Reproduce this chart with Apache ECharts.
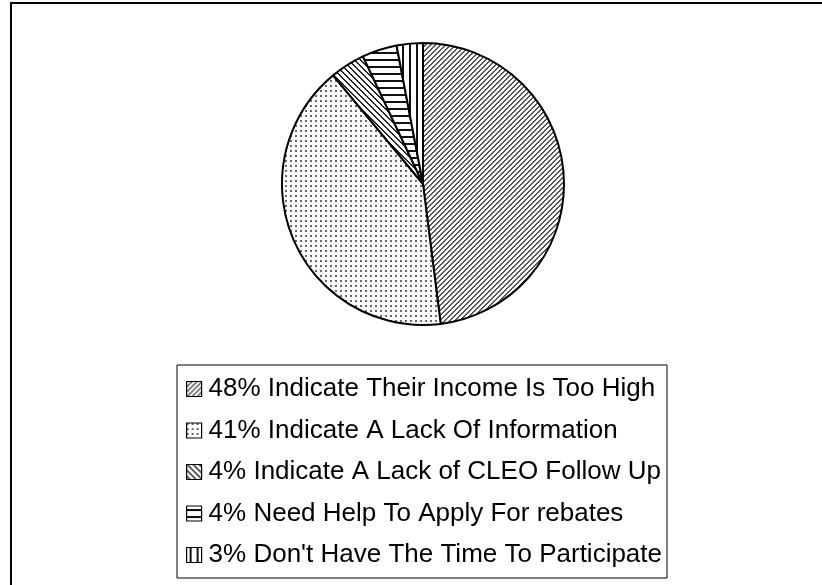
<!DOCTYPE html>
<html>
<head>
<meta charset="utf-8">
<script src="https://cdn.jsdelivr.net/npm/echarts@6/dist/echarts.min.js"></script>
<style>
  html, body { margin: 0; padding: 0; background: #fff; }
  #chart { width: 822px; height: 585px; }
</style>
</head>
<body>
<div id="chart"></div>
<script>
// Reasons given for not taking part in the rebate programme
const categories = [
  '48% Indicate Their Income Is Too High',
  '41% Indicate A Lack Of Information',
  '4% Indicate A Lack of CLEO Follow Up',
  '4% Need Help To Apply For rebates',
  "3% Don't Have The Time To Participate"
];
const values = [48, 41, 4, 4, 3];

// Monochrome fill patterns, one per slice
function tile(w, h, paint) {
  const c = document.createElement('canvas');
  c.width = w; c.height = h;
  const g = c.getContext('2d');
  g.fillStyle = '#fff';
  g.fillRect(0, 0, w, h);
  paint(g, w, h);
  return { image: c, repeat: 'repeat' };
}
const patterns = [
  // forward diagonal hatch
  tile(5, 5, (g, w) => {
    g.fillStyle = '#555';
    for (let i = 0; i < w; i++) {
      g.fillRect(i, w - 1 - i, 1, 1);
      g.fillRect((i + 1) % w, w - 1 - i, 1, 1);
    }
  }),
  // fine dots
  tile(5, 5, (g) => {
    g.fillStyle = '#666';
    g.fillRect(0, 0, 2, 2);
  }),
  // backward diagonal hatch
  tile(6, 6, (g, w) => {
    g.fillStyle = '#222';
    for (let i = 0; i < w; i++) {
      g.fillRect(i, i, 1, 1);
      g.fillRect((i + 1) % w, i, 1, 1);
    }
  }),
  // horizontal stripes
  tile(7, 7, (g, w) => {
    g.fillStyle = '#111';
    g.fillRect(0, 3, w, 2);
  }),
  // vertical stripes
  tile(7, 7, (g, w, h) => {
    g.fillStyle = '#111';
    g.fillRect(3, 0, 2, h);
  })
];

const chart = echarts.init(document.getElementById('chart'), null, { renderer: 'canvas' });
chart.setOption({
  animation: false,
  backgroundColor: '#fff',
  graphic: [{
    type: 'rect',
    shape: { x: 11, y: 3, width: 900, height: 700 },
    style: { fill: 'none', stroke: '#000', lineWidth: 2 },
    silent: true
  }],
  legend: {
    orient: 'vertical',
    left: 177,
    top: 365,
    padding: [9, 5, 8, 9],
    borderColor: '#000',
    borderWidth: 1,
    itemWidth: 15,
    itemHeight: 15,
    itemGap: 11.5,
    icon: 'rect',
    selectedMode: false,
    itemStyle: { borderColor: '#000', borderWidth: 1.2 },
    textStyle: {
      fontFamily: "'Liberation Sans', Arial, sans-serif",
      fontSize: 26,
      color: '#000',
      lineHeight: 30,
      padding: [0, 0, 0, 2]
    },
    data: categories
  },
  series: [{
    type: 'pie',
    center: [423, 184],
    radius: 141,
    startAngle: 90,
    clockwise: true,
    avoidLabelOverlap: false,
    label: { show: false },
    labelLine: { show: false },
    emphasis: { disabled: true },
    itemStyle: { borderColor: '#000', borderWidth: 2 },
    data: categories.map((name, i) => ({
      name,
      value: values[i],
      itemStyle: { color: patterns[i] }
    }))
  }]
});
</script>
</body>
</html>
